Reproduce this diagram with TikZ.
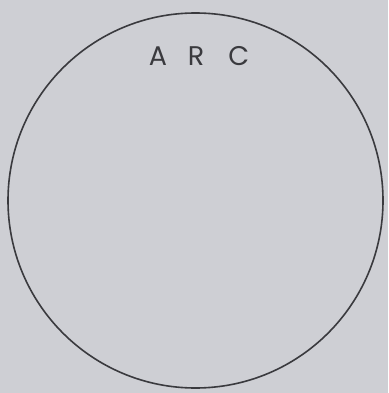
\documentclass[tikz,border=0pt]{standalone}
\usepackage{fontspec}
\setmainfont{Poppins}
\usepackage{tikz}
\usetikzlibrary{positioning}
\definecolor{paper}{RGB}{206,207,212}
\definecolor{ink}{RGB}{58,58,62}

\begin{document}
\begin{tikzpicture}[x=1pt,y=-1pt]
  \def\R{187.5}
  \fill[paper] (0,0) rectangle (388,393);
  \useasboundingbox (0,0) rectangle (388,393);
  \draw[ink,line width=1.6pt] (195.5,200.5) circle (\R);
  \node[ink,font=\fontsize{27}{30}\selectfont] (arc) at (199,56) {A\hspace{21pt}R\hspace{24pt}C};
\end{tikzpicture}
\end{document}
